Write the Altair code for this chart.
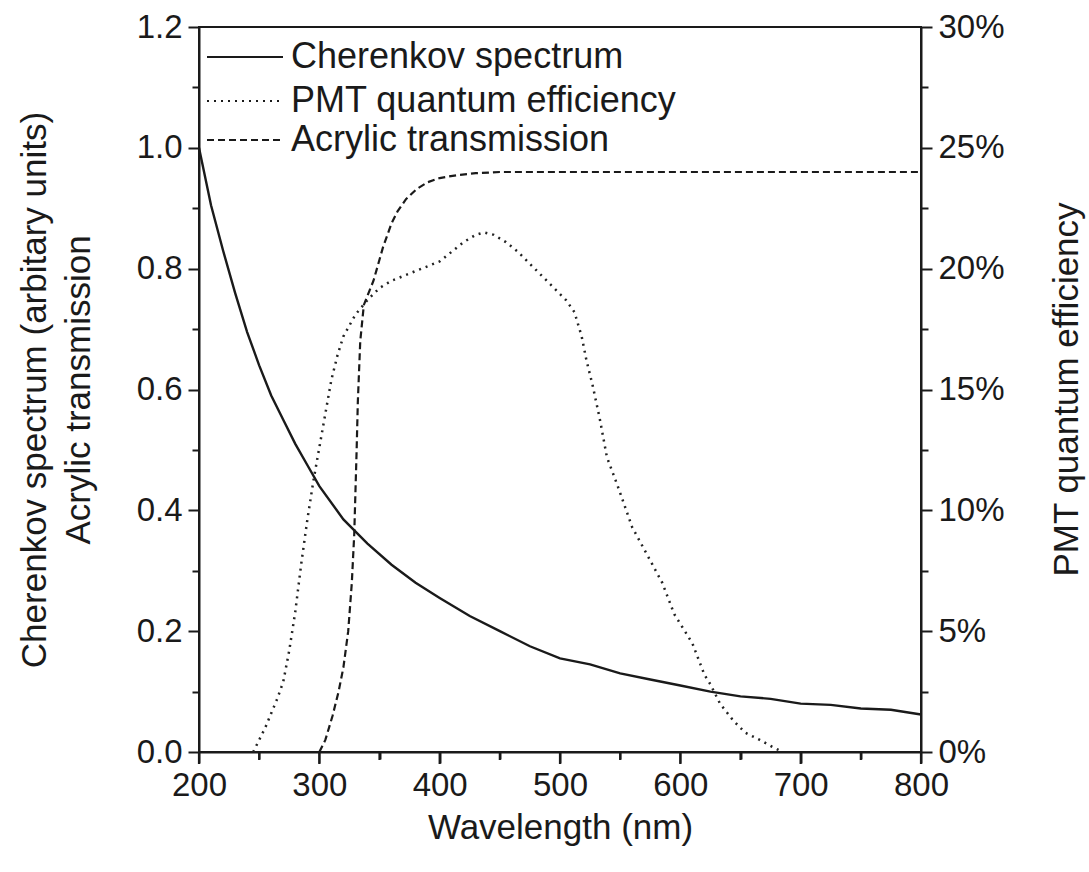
import altair as alt
import pandas as pd

# ---- data ----
cher_wl = [200, 210, 220, 230, 240, 250, 260, 270, 280, 290, 300, 320, 340, 360, 380,
           400, 425, 450, 475, 500, 525, 550, 575, 600, 625, 650, 675, 700, 725, 750, 775, 800]
cher_val = [1.0, 0.905, 0.83, 0.76, 0.695, 0.64, 0.59, 0.55, 0.51, 0.475, 0.44, 0.385, 0.345, 0.31, 0.28,
            0.255, 0.225, 0.2, 0.175, 0.155, 0.145, 0.13, 0.12, 0.11, 0.1, 0.092, 0.088, 0.08, 0.078, 0.072, 0.07, 0.062]

qe_wl = [245, 250, 255, 260, 265, 270, 275, 280, 285, 290, 295, 300, 305, 310, 315, 320, 330, 340,
         350, 360, 370, 380, 390, 400, 410, 420, 430, 437, 445, 455, 465, 475, 485, 495, 505, 512,
         518, 522, 527, 533, 539, 548, 560, 572, 585, 595, 610, 620, 625, 633, 644, 654, 666, 677, 685]
qe_pct = [0.0, 0.5, 1.0, 1.6, 2.2, 2.9, 4.2, 5.8, 7.8, 9.6, 11.2, 12.6, 14.0, 15.4, 16.4, 17.2, 18.1, 18.7,
          19.2, 19.5, 19.7, 19.9, 20.1, 20.3, 20.7, 21.1, 21.4, 21.5, 21.4, 21.1, 20.7, 20.2, 19.7, 19.2, 18.7, 18.2,
          17.2, 16.2, 15.2, 13.8, 12.2, 11.0, 9.3, 8.2, 7.0, 5.7, 4.5, 3.2, 2.8, 2.0, 1.3, 0.8, 0.5, 0.2, 0.0]

acr_wl = [300, 305, 311, 316, 320, 324, 327, 329, 331, 332, 334, 337, 345, 353, 360, 365, 372, 381,
          390, 400, 415, 430, 450, 500, 600, 700, 800]
acr_val = [0.0, 0.02, 0.06, 0.1, 0.14, 0.2, 0.28, 0.36, 0.5, 0.58, 0.68, 0.74, 0.78, 0.836, 0.875, 0.895, 0.915, 0.932,
           0.943, 0.95, 0.955, 0.958, 0.96, 0.96, 0.96, 0.96, 0.96]

series_names = ["Cherenkov spectrum", "PMT quantum efficiency", "Acrylic transmission"]
x_ticks = [200 + 50 * i for i in range(13)]
left_ticks = [round(0.1 * i, 1) for i in range(13)]
right_ticks = [2.5 * i for i in range(13)]

cher_df = pd.DataFrame({"wl": cher_wl, "v": cher_val})
qe_df = pd.DataFrame({"wl": qe_wl, "q": qe_pct})
acr_df = pd.DataFrame({"wl": acr_wl, "v": acr_val})
xt_df = pd.DataFrame({"wl": x_ticks, "major": [t % 100 == 0 for t in x_ticks]})

FONT = "Liberation Sans"
INK = "#1a1a1a"

x_scale = alt.Scale(domain=[200, 800], nice=False, zero=False)
x_axis = alt.Axis(values=x_ticks, title="Wavelength (nm)", format="d", orient="bottom",
                  labelExpr="datum.value % 100 === 0 ? datum.label : ''",
                  tickSize={"condition": {"test": "datum.value % 100 === 0", "value": 11}, "value": 7},
                  ticks=True,
                  labelFlush=False, labelOverlap=False,
                  labelPadding=6, titlePadding=8)
x_enc = alt.X("wl:Q", scale=x_scale, axis=x_axis)

y_left = alt.Y("v:Q", scale=alt.Scale(domain=[0, 1.2], nice=False),
               axis=alt.Axis(values=left_ticks, orient="left",
                             title=["Cherenkov spectrum (arbitary units)", "Acrylic transmission"],
                             format=".1f",
                             labelExpr="round(datum.value*10) % 2 === 0 ? datum.label : ''",
                             tickSize={"condition": {"test": "round(datum.value*10) % 2 === 0", "value": 11}, "value": 7},
                             labelFlush=False, labelOverlap=False,
                             labelPadding=6, titlePadding=40, titleLineHeight=44))

cher = alt.Chart(cher_df).mark_line(color=INK, strokeWidth=2.4).encode(x=x_enc, y=y_left)
acr = alt.Chart(acr_df).mark_line(color=INK, strokeWidth=2.2, strokeDash=[7, 4]).encode(x=x_enc, y=y_left)

qe = alt.Chart(qe_df).mark_line(color="#222222", strokeWidth=2.5, strokeDash=[2, 5]).encode(
    x=x_enc,
    y=alt.Y("q:Q", scale=alt.Scale(domain=[0, 30], nice=False),
            axis=alt.Axis(values=right_ticks, orient="right", title="PMT quantum efficiency",
                          labelExpr="datum.value % 5 === 0 ? datum.value + '%' : ''",
                          tickSize={"condition": {"test": "datum.value % 5 === 0", "value": 11}, "value": 7},
                          labelFlush=False, labelOverlap=False,
                          labelPadding=6, titleAngle=270, titleX=145, titleY=362,
                          titleAlign="center", titleBaseline="middle")))

# wavelength-axis ticks reinforced as rules positioned by the x scale (major long, minor short)
xt_major = alt.Chart(xt_df).transform_filter("datum.major").mark_rule(color=INK, strokeWidth=2.2).encode(
    x=x_enc, y=alt.value(725), y2=alt.value(737))
xt_minor = alt.Chart(xt_df).transform_filter("!datum.major").mark_rule(color=INK, strokeWidth=2.2).encode(
    x=x_enc, y=alt.value(725), y2=alt.value(733))

# ---- manual legend (chrome) ----
dashes = [[1, 0], [2, 5], [7, 4]]
rows_y = [30, 74, 113]
legend_layers = []
for name, dash, yy in zip(series_names, dashes, rows_y):
    one = pd.DataFrame({"label": [name]})
    legend_layers.append(
        alt.Chart(one).mark_rule(color=INK, strokeWidth=2.2, strokeDash=dash).encode(
            x=alt.value(8), x2=alt.value(84), y=alt.value(yy)))
    legend_layers.append(
        alt.Chart(one).mark_text(align="left", baseline="middle", font=FONT,
                                 fontSize=36, color=INK).encode(
            text="label:N", x=alt.value(92), y=alt.value(yy)))

left_layer = alt.layer(cher, acr)
chart = alt.layer(left_layer, qe, xt_major, xt_minor, *legend_layers).resolve_scale(y="independent").properties(
    width=722, height=725,
    autosize=alt.AutoSizeParams(type="none"),
    padding={"left": 199, "top": 27, "right": 168, "bottom": 120},
).configure_view(stroke=INK, strokeWidth=2).configure_axis(
    domainColor=INK, domainWidth=2, tickColor=INK, tickWidth=2,
    labelFont=FONT, labelFontSize=33, labelColor=INK,
    titleFont=FONT, titleFontSize=35, titleColor=INK, titleFontWeight="normal",
    grid=False,
)

chart.save("out.html", embed_options={"renderer": "svg", "actions": False})
